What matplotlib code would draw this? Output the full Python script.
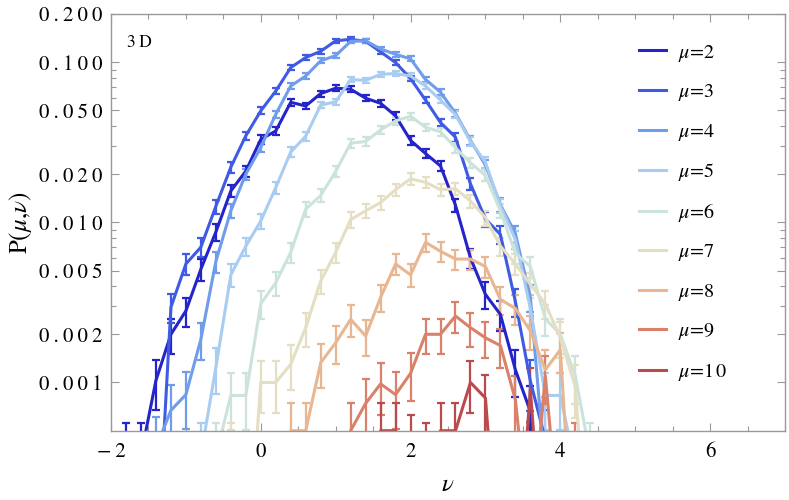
import numpy as np
import matplotlib
matplotlib.use('Agg')
import matplotlib.pyplot as plt
from matplotlib.lines import Line2D
from matplotlib.ticker import FixedLocator, MultipleLocator, FuncFormatter

plt.rcParams['font.family'] = ['STIXGeneral', 'Liberation Serif', 'DejaVu Serif']
plt.rcParams['mathtext.fontset'] = 'stix'

# nu grid of the histogram (bin width 0.2)
nu = [-1.8, -1.6, -1.4, -1.2, -1.0, -0.8, -0.6, -0.4, -0.2, 0.0, 0.2, 0.4, 0.6,
      0.8, 1.0, 1.2, 1.4, 1.6, 1.8, 2.0, 2.2, 2.4, 2.6, 2.8, 3.0, 3.2, 3.4, 3.6,
      3.8, 4.0, 4.2, 4.4]

# P(mu, nu); each series starts at the given nu
p_mu2 = (-1.8, [0.00035, 0.00035, 0.00103, 0.0020, 0.0028, 0.0051, 0.0087, 0.0157, 0.0209, 0.033,
                0.0372, 0.0562, 0.0533, 0.0637, 0.0688, 0.0678, 0.0596, 0.0554, 0.0462, 0.0325,
                0.0269, 0.0225, 0.0128, 0.0060, 0.00355, 0.00266, 0.0012, 0.00066, 0.00003])
p_mu3 = (-1.4, [0.00006, 0.00295, 0.0055, 0.0070, 0.0126, 0.0221, 0.0347, 0.0497, 0.066, 0.0926,
                0.107, 0.117, 0.136, 0.139, 0.135, 0.116, 0.0995, 0.079, 0.058, 0.042,
                0.034, 0.0174, 0.0105, 0.0084, 0.0032, 0.00102, 0.00044, 0.00003])
p_mu4 = (-1.4, [0.00039, 0.00067, 0.00084, 0.00186, 0.0057, 0.0118, 0.020, 0.0293, 0.0473, 0.071,
                0.082, 0.102, 0.110, 0.135, 0.136, 0.121, 0.112, 0.105, 0.078, 0.065,
                0.048, 0.0325, 0.0228, 0.0129, 0.0085, 0.0034, 0.00027, 0.00003])
p_mu5 = (-0.8, [0.00035, 0.00124, 0.0047, 0.0071, 0.0102, 0.0165, 0.0275, 0.0345, 0.054, 0.0566,
                0.078, 0.077, 0.084, 0.085, 0.082, 0.071, 0.058, 0.047, 0.032, 0.0237,
                0.0127, 0.0078, 0.0029, 0.00083, 0.00083, 0.0003])
p_mu6 = (-0.6, [0.00035, 0.00083, 0.00083, 0.0031, 0.0042, 0.0065, 0.0121, 0.0147, 0.0208, 0.0312,
                0.032, 0.0378, 0.043, 0.046, 0.0392, 0.0368, 0.0292, 0.0235, 0.0196, 0.0118,
                0.0064, 0.0053, 0.0025, 0.0020, 0.0011, 0.00035])
p_mu7 = (-0.4, [0.00035, 0.00005, 0.001, 0.001, 0.0013, 0.0022, 0.0043, 0.0065, 0.0104, 0.0118,
                0.0133, 0.016, 0.0187, 0.0178, 0.016, 0.0162, 0.0136, 0.0107, 0.0071, 0.0055,
                0.0041, 0.0031, 0.0019, 0.00094, 0.00005])
p_mu8 = (0.2, [0.00005, 0.0005, 0.0005, 0.00133, 0.00177, 0.00248, 0.00195, 0.0034, 0.0055, 0.0047,
               0.0075, 0.0066, 0.0059, 0.0059, 0.0053, 0.0033, 0.0029, 0.0021, 0.0012, 0.0016,
               0.00005])
p_mu9 = (1.0, [0.00005, 0.0005, 0.00074, 0.00098, 0.00084, 0.00114, 0.002, 0.002, 0.0026, 0.0022,
               0.0019, 0.0017, 0.00078, 0.0001, 0.0011, 0.0001, 0.00035])
p_mu10 = (1.4, [0.00005, 0.0005, 0.0005, 0.0004, 0.00035, 0.0005, 0.0005, 0.001, 0.0008, 0.00005,
                0.00005, 0.0009, 0.00005])

series = [p_mu2, p_mu3, p_mu4, p_mu5, p_mu6, p_mu7, p_mu8, p_mu9, p_mu10]
labels = ['$\\mu$=2', '$\\mu$=3', '$\\mu$=4', '$\\mu$=5', '$\\mu$=6',
          '$\\mu$=7', '$\\mu$=8', '$\\mu$=9', '$\\mu$=1$\\,$0']
colors = ['#2424C8', '#3F5BE3', '#709CEC', '#A9CDF0', '#CCE3DC',
          '#E4DEC3', '#E8B690', '#DA816B', '#BA4A4B']

# probability carried by a single count -> Poisson error bars
single_count = 1.25e-4

fig = plt.figure(figsize=(7.89, 5.0), dpi=100)
ax = fig.add_axes([0.1407, 0.1386, 0.8542, 0.8334])

handles = []
for (start, vals), col, lab in zip(series, colors, labels):
    i0 = nu.index(start)
    x = np.array(nu[i0:i0 + len(vals)])
    p = np.array(vals)
    err = np.sqrt(p * single_count)
    lower = np.minimum(err, p * 0.999)
    ax.errorbar(x, p, yerr=[lower, err], color=col, lw=2.2, elinewidth=1.6,
                capsize=3, capthick=1.6)
    handles.append(Line2D([0], [0], color=col, lw=2.2))

ax.set_yscale('log')
ax.set_xlim(-2, 7)
ax.set_ylim(0.0005, 0.2)


def spaced(s):
    # Mathematica-like letter spacing of tick labels
    return '\u2009'.join(s)


ax.xaxis.set_major_locator(MultipleLocator(2))
ax.xaxis.set_minor_locator(MultipleLocator(0.5))
ax.yaxis.set_major_locator(FixedLocator([0.001, 0.002, 0.005, 0.01, 0.02, 0.05, 0.1, 0.2]))
ax.yaxis.set_minor_locator(FixedLocator([0.003, 0.004, 0.006, 0.007, 0.008, 0.009,
                                         0.03, 0.04, 0.06, 0.07, 0.08, 0.09]))
ax.yaxis.set_major_formatter(FuncFormatter(lambda v, pos: spaced('%.3f' % v)))
ax.xaxis.set_major_formatter(FuncFormatter(
    lambda v, pos: ('\u2212\u2009%d' % -v) if v < 0 else '%d' % v))

ax.tick_params(which='both', direction='in', top=True, right=True, color='#999999',
               width=0.8, labelsize=15)
ax.tick_params(which='major', length=6)
ax.tick_params(which='minor', length=3.5)
ax.tick_params(axis='x', pad=8)
ax.tick_params(axis='y', pad=6)
for s in ax.spines.values():
    s.set_color('#999999')
    s.set_linewidth(1.0)

ax.set_xlabel('$\\nu$', fontsize=18, labelpad=8)
ax.set_ylabel('P($\\mu$,$\\nu$)', fontsize=18, labelpad=4)

ax.text(0.024, 0.931, '3\u2009D', transform=ax.transAxes, fontsize=12.5, va='center', ha='left')

ax.legend(handles, labels, loc='upper left', bbox_to_anchor=(0.81, 0.915),
          bbox_transform=fig.transFigure, frameon=False, fontsize=14.5,
          handlelength=1.35, handletextpad=0.56, labelspacing=0.92, borderpad=0,
          borderaxespad=0)

fig.savefig('out.png', dpi=100)
